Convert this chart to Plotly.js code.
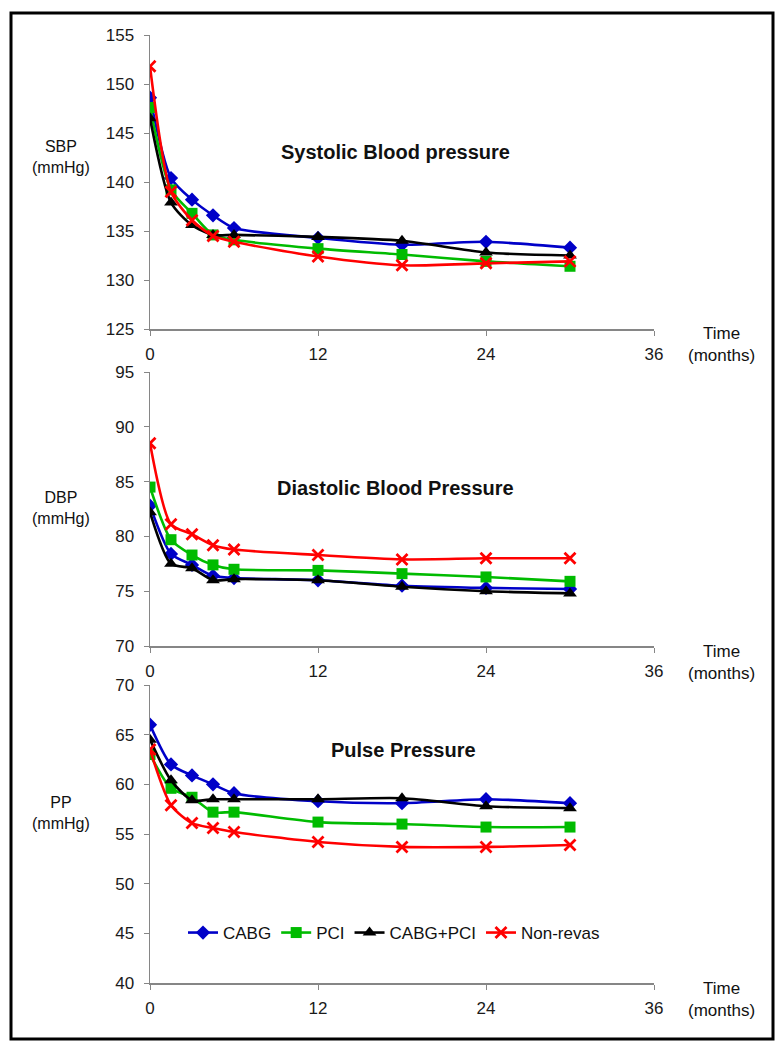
<!DOCTYPE html>
<html>
<head>
<meta charset="utf-8">
<script src="https://cdn.plot.ly/plotly-3.0.1.min.js"></script>
<style>
  body { margin: 0; background: #fff; }
  #chart { width: 780px; height: 1050px; }
</style>
</head>
<body>
<div id="chart"></div>
<script>
// months of follow-up
const months = [0, 1.5, 3, 4.5, 6, 12, 18, 24, 30];
const groups = ['CABG', 'PCI', 'CABG+PCI', 'Non-revas'];

// systolic blood pressure (mmHg)
const sbpCabg = [148.6, 140.4, 138.2, 136.6, 135.3, 134.3, 133.6, 133.9, 133.3];
const sbpPci = [147.6, 139.2, 136.8, 134.6, 134.1, 133.2, 132.6, 131.9, 131.4];
const sbpCombo = [146.5, 137.9, 135.6, 134.6, 134.6, 134.4, 134.0, 132.8, 132.5];
const sbpNonRevas = [151.8, 139.0, 136.1, 134.5, 133.9, 132.4, 131.5, 131.7, 131.9];

// diastolic blood pressure (mmHg)
const dbpCabg = [82.8, 78.4, 77.4, 76.4, 76.2, 76.0, 75.5, 75.3, 75.2];
const dbpPci = [84.5, 79.7, 78.3, 77.4, 77.0, 76.9, 76.6, 76.3, 75.9];
const dbpCombo = [82.2, 77.5, 77.1, 76.0, 76.1, 76.0, 75.4, 75.0, 74.8];
const dbpNonRevas = [88.5, 81.1, 80.2, 79.2, 78.8, 78.3, 77.9, 78.0, 78.0];

// pulse pressure (mmHg)
const ppCabg = [66.0, 62.0, 60.9, 60.0, 59.1, 58.3, 58.1, 58.5, 58.1];
const ppPci = [63.0, 59.6, 58.7, 57.2, 57.2, 56.2, 56.0, 55.7, 55.7];
const ppCombo = [64.5, 60.4, 58.4, 58.5, 58.5, 58.5, 58.6, 57.8, 57.6];
const ppNonRevas = [63.5, 57.9, 56.1, 55.6, 55.2, 54.2, 53.7, 53.7, 53.9];

const xTicks = [0, 12, 24, 36];

const styles = [
    {color: '#0000c8', marker: {symbol: 'diamond', size: 11, color: '#0000c8'}},
    {color: '#00bb00', marker: {symbol: 'square', size: 11, color: '#00bb00'}},
    {color: '#000000', marker: {symbol: 'triangle-up', size: 12, color: '#000000'}},
    {color: '#ff0000', marker: {symbol: 'x-thin', size: 11, color: '#ff0000', line: {width: 2.8, color: '#ff0000'}}}
];

const font = 'Liberation Sans, Arial, sans-serif';

function panel(series, xa, ya, showLegend) {
    return series.map((vals, i) => ({
        x: months,
        y: vals,
        xaxis: xa,
        yaxis: ya,
        type: 'scatter',
        mode: 'lines+markers',
        name: groups[i],
        legendgroup: groups[i],
        showlegend: showLegend,
        line: {color: styles[i].color, width: 2.6, shape: 'spline', smoothing: 0.7},
        marker: styles[i].marker
    }));
}

const data = [].concat(
    panel([sbpCabg, sbpPci, sbpCombo, sbpNonRevas], 'x', 'y', false),
    panel([dbpCabg, dbpPci, dbpCombo, dbpNonRevas], 'x2', 'y2', false),
    panel([ppCabg, ppPci, ppCombo, ppNonRevas], 'x3', 'y3', true)
);

const xBase = {
    domain: [150 / 780, 654 / 780],
    range: [0, 36],
    tickvals: xTicks,
    showline: true,
    linecolor: '#868686',
    linewidth: 1.5,
    ticks: 'outside',
    ticklen: 5,
    tickcolor: '#868686',
    showgrid: false,
    zeroline: false,
    ticklabelstandoff: 4,
    tickfont: {family: font, size: 17, color: '#1a1a1a'}
};
const yBase = {
    showline: true,
    linecolor: '#868686',
    linewidth: 1.5,
    ticks: 'outside',
    ticklen: 5,
    tickcolor: '#868686',
    showgrid: false,
    zeroline: false,
    dtick: 5,
    ticklabelstandoff: 6,
    tickfont: {family: font, size: 17, color: '#1a1a1a'}
};

function pd(top, bottom) {
    return [1 - bottom / 1050, 1 - top / 1050];
}

function label(text, x, y, size, bold) {
    return {
        text: bold ? '<b>' + text + '</b>' : text,
        xref: 'paper', yref: 'paper',
        x: x / 780, y: 1 - y / 1050,
        xanchor: 'center', yanchor: 'middle',
        showarrow: false,
        font: {family: font, size: size, color: '#111'}
    };
}

const layout = {
    width: 780,
    height: 1050,
    margin: {l: 0, r: 0, t: 0, b: 0},
    paper_bgcolor: '#ffffff',
    plot_bgcolor: 'rgba(0,0,0,0)',
    xaxis: Object.assign({}, xBase, {anchor: 'y'}),
    xaxis2: Object.assign({}, xBase, {anchor: 'y2'}),
    xaxis3: Object.assign({}, xBase, {anchor: 'y3'}),
    yaxis: Object.assign({}, yBase, {domain: pd(35, 329), range: [125, 155], anchor: 'x'}),
    yaxis2: Object.assign({}, yBase, {domain: pd(372, 646), range: [70, 95], anchor: 'x2'}),
    yaxis3: Object.assign({}, yBase, {domain: pd(685, 983), range: [40, 70], anchor: 'x3'}),
    showlegend: true,
    legend: {
        orientation: 'h',
        x: 183 / 780, y: 1 - 933 / 1050,
        xanchor: 'left', yanchor: 'middle',
        font: {family: font, size: 17, color: '#111'},
        bgcolor: 'rgba(0,0,0,0)',
        itemwidth: 30
    },
    annotations: [
        label('Systolic Blood pressure', 395, 152, 20, true),
        label('Diastolic Blood Pressure', 395, 488, 20, true),
        label('Pulse Pressure', 403, 750, 20, true),
        label('SBP<br>(mmHg)', 61, 157, 16, false),
        label('DBP<br>(mmHg)', 61, 508, 16, false),
        label('PP<br>(mmHg)', 61, 813, 16, false),
        label('Time<br>(months)', 721, 344, 17, false),
        label('Time<br>(months)', 721, 662, 17, false),
        label('Time<br>(months)', 721, 999, 17, false)
    ],
    shapes: [{
        type: 'rect', xref: 'paper', yref: 'paper',
        x0: 11 / 780, x1: 773 / 780,
        y0: 1 - 1039 / 1050, y1: 1 - 13 / 1050,
        line: {color: '#000', width: 3}
    }]
};

Plotly.newPlot('chart', data, layout, {displayModeBar: false, staticPlot: true});
</script>
</body>
</html>
